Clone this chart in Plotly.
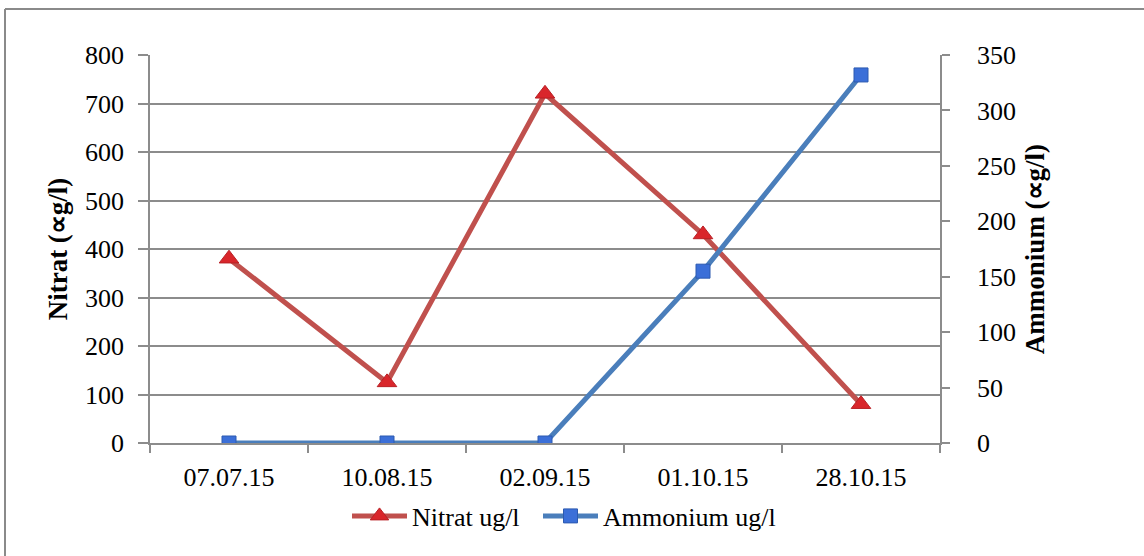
import plotly.graph_objects as go

categories = ["07.07.15", "10.08.15", "02.09.15", "01.10.15", "28.10.15"]
nitrat = [380, 125, 720, 430, 80]
ammonium = [0, 0, 0, 155, 332]

left_title = "Nitrat (∝g/l)"
right_title = "Ammonium (∝g/l)"
nitrat_name = "Nitrat ug/l"
ammonium_name = "Ammonium ug/l"

FONT = "Liberation Serif"
GRID = "#8c8c8c"
FS = 26

W, H = 1144, 556
L, R, T, B = 150, 204, 55, 113
pw, ph = W - L - R, H - T - B

fig = go.Figure()
fig.add_trace(go.Scatter(
    x=categories, y=nitrat, name=nitrat_name, mode="lines+markers",
    line=dict(color="#C0504D", width=5),
    marker=dict(symbol="triangle-up", size=17, color="#D9262B",
                line=dict(color="#B82025", width=1)),
    yaxis="y", legend="legend",
))
fig.add_trace(go.Scatter(
    x=categories, y=ammonium, name=ammonium_name, mode="lines+markers",
    line=dict(color="#4A7EBB", width=5),
    marker=dict(symbol="square", size=14, color="#3B6FD8",
                line=dict(color="#2C5AB0", width=1)),
    yaxis="y2", legend="legend2",
))

def px_x(p):
    return (p - L) / pw

def px_y(p):
    return (H - B - p) / ph

shapes = [
    dict(type="line", xref="paper", yref="paper", x0=px_x(5), x1=px_x(1200),
         y0=px_y(9), y1=px_y(9), line=dict(color="#8a8a8a", width=2)),
    dict(type="line", xref="paper", yref="paper", x0=px_x(5), x1=px_x(5),
         y0=px_y(9), y1=px_y(600), line=dict(color="#8a8a8a", width=2)),
]

legend_common = dict(orientation="h", xanchor="left", y=px_y(516), yanchor="middle",
                     font=dict(family=FONT, size=FS, color="black"),
                     itemwidth=55, bgcolor="rgba(0,0,0,0)")

fig.update_layout(
    width=W, height=H,
    margin=dict(l=L, r=R, t=T, b=B, pad=0),
    paper_bgcolor="white", plot_bgcolor="white",
    font=dict(family=FONT, size=FS, color="black"),
    showlegend=True,
    legend=dict(x=px_x(347), **legend_common),
    legend2=dict(x=px_x(538), **legend_common),
    shapes=shapes,
    xaxis=dict(
        type="category", range=[-0.5, 4.5], showgrid=False,
        showline=True, linecolor=GRID, linewidth=1.5,
        ticks="outside", tickson="boundaries", ticklen=8, tickcolor=GRID, tickwidth=1.5,
        tickfont=dict(family=FONT, size=FS, color="black"),
        ticklabelstandoff=10,
    ),
    yaxis=dict(
        range=[0, 800], dtick=100, tick0=0,
        showgrid=True, gridcolor=GRID, gridwidth=1.5,
        showline=True, linecolor=GRID, linewidth=1.5,
        ticks="outside", ticklen=10, tickcolor=GRID, tickwidth=1.5,
        tickfont=dict(family=FONT, size=FS, color="black"),
        ticklabelstandoff=9, zeroline=False,
        title=dict(text="<b>" + left_title + "</b>", font=dict(family=FONT, size=27), standoff=10),
    ),
    yaxis2=dict(
        range=[0, 350], dtick=50, tick0=0, overlaying="y", side="right",
        showgrid=False, showline=True, linecolor=GRID, linewidth=1.5,
        ticks="outside", ticklen=8, tickcolor=GRID, tickwidth=1.5,
        tickfont=dict(family=FONT, size=FS, color="black"),
        ticklabelstandoff=22, zeroline=False,
        title=dict(text="<b>" + right_title + "</b>", font=dict(family=FONT, size=27), standoff=10),
    ),
)

fig.write_html("out.html")
